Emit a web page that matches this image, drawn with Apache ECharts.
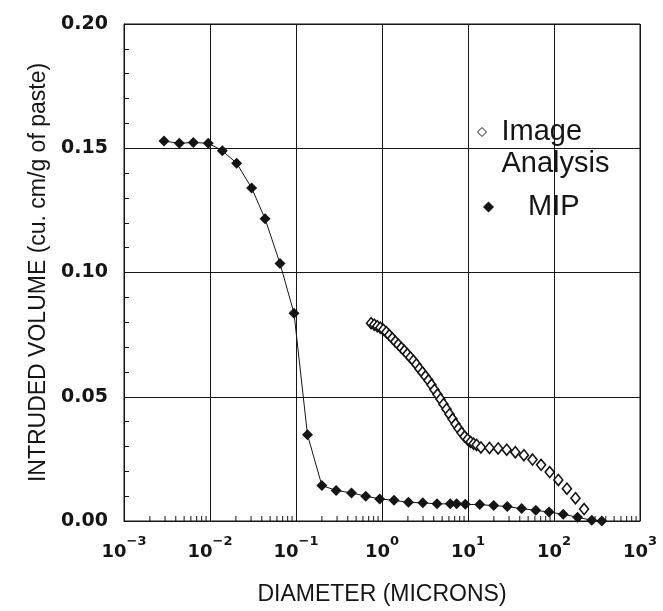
<!DOCTYPE html>
<html><head><meta charset="utf-8">
<script src="https://cdn.jsdelivr.net/npm/echarts@6/dist/echarts.min.js"></script>
<style>html,body{margin:0;padding:0;background:#fff}#c{width:663px;height:611px}</style>
</head><body><div id="c"></div>
<script>
// MIP (mercury intrusion porosimetry) — diameter in microns, intruded volume
const mipDiameter = [0.00292, 0.00440, 0.00640, 0.00955, 0.0139, 0.0204, 0.0305, 0.0437, 0.0652, 0.0948,
  0.136, 0.200, 0.293, 0.442, 0.647, 0.940, 1.38, 2.03, 2.98, 4.36, 6.22, 7.38, 9.29,
  13.7, 19.9, 28.6, 42.0, 61.4, 87.5, 128, 188, 275, 360];
const mipVolume = [0.1529, 0.1520, 0.1523, 0.1520, 0.1490, 0.1440, 0.1340, 0.1216, 0.1036, 0.0836,
  0.0347, 0.0143, 0.0123, 0.0113, 0.0100, 0.0089, 0.0083, 0.0075, 0.0073, 0.0069, 0.0069, 0.0069, 0.0067,
  0.0066, 0.0062, 0.0058, 0.0050, 0.0043, 0.0036, 0.0027, 0.0015, 0.0003, 0.0000];

// Image analysis — diameter in microns, intruded volume
const iaDiameter = [0.746, 0.813, 0.881, 0.955, 1.035, 1.122, 1.216, 1.318, 1.429, 1.549, 1.679, 1.820,
  1.972, 2.138, 2.317, 2.512, 2.723, 2.951, 3.199, 3.467, 3.758, 4.074, 4.416, 4.786, 5.188, 5.623,
  6.095, 6.607, 7.161, 7.762, 8.414, 9.120, 9.886, 10.72, 11.61, 12.59,
  14.13, 17.78, 22.39, 28.18, 35.48, 44.67, 56.23, 70.79, 89.13, 112.2, 141.3, 177.8, 223.9];
const iaVolume = [0.0796, 0.0790, 0.0784, 0.0778, 0.0770, 0.0760, 0.0748, 0.0735, 0.0722, 0.0710, 0.0697, 0.0685,
  0.0672, 0.0658, 0.0645, 0.0630, 0.0613, 0.0598, 0.0582, 0.0566, 0.0548, 0.0528, 0.0509, 0.0490, 0.0470, 0.0450,
  0.0430, 0.0410, 0.0390, 0.0372, 0.0355, 0.0340, 0.0328, 0.0318, 0.0311, 0.0306,
  0.0296, 0.0294, 0.0292, 0.0287, 0.0277, 0.0265, 0.0247, 0.0226, 0.0197, 0.0165, 0.0130, 0.0092, 0.0048];

// Axis ticks
const yTickLabels = ['0.00', '0.05', '0.10', '0.15', '0.20'];
const xTickExponents = ['−3', '−2', '−1', '0', '1', '2', '3'];
const xMinorTicks = [
  0.002, 0.003, 0.004, 0.005, 0.006, 0.007, 0.008, 0.009,
  0.02, 0.03, 0.04, 0.05, 0.06, 0.07, 0.08, 0.09,
  0.2, 0.3, 0.4, 0.5, 0.6, 0.7, 0.8, 0.9,
  2, 3, 4, 5, 6, 7, 8, 9,
  20, 30, 40, 50, 60, 70, 80, 90,
  200, 300, 400, 500, 600, 700, 800, 900];

const ink = '#151515';
const legendText = {fontFamily: 'Liberation Sans', fontSize: 29, lineHeight: 32, color: ink};
const chart = echarts.init(document.getElementById('c'), null, {renderer: 'canvas'});
chart.setOption({
  animation: false,
  backgroundColor: '#ffffff',
  grid: {left: 124, right: 23, top: 24, bottom: 87, show: true, borderColor: ink, borderWidth: 1},
  legend: [
    {
      data: [{name: 'Image Analysis', icon: 'diamond', itemStyle: {color: '#fff', borderColor: ink, borderWidth: 1}}],
      left: 477, top: 84, padding: 0, itemWidth: 9, itemHeight: 9, selectedMode: false,
      formatter: function () { return '\n{t|Image}\n{t|Analysis}'; },
      textStyle: Object.assign({}, legendText, {rich: {t: Object.assign({}, legendText, {padding: [0, 0, 0, 10]})}})
    },
    {
      data: [{name: 'MIP', icon: 'diamond', itemStyle: {color: ink}}],
      left: 483, top: 191, padding: 0, itemWidth: 11, itemHeight: 11, selectedMode: false,
      formatter: function (n) { return '{t|' + n + '}'; },
      textStyle: Object.assign({}, legendText, {rich: {t: Object.assign({}, legendText, {padding: [0, 0, 0, 29]})}})
    }
  ],
  xAxis: {
    type: 'log', logBase: 10, min: 0.001, max: 1000,
    name: 'DIAMETER (MICRONS)', nameLocation: 'middle', nameGap: 62,
    nameTextStyle: {fontFamily: 'Liberation Sans', fontSize: 23, color: ink},
    axisLine: {show: true, lineStyle: {color: ink, width: 1}},
    axisTick: {show: false},
    splitLine: {show: true, lineStyle: {color: ink, width: 1}},
    axisLabel: {
      margin: 14,
      formatter: function (v) {
        const e = Math.round(Math.log10(v));
        return '{b|10}{s|' + xTickExponents[e + 3] + '}';
      },
      rich: {
        b: {fontFamily: 'DejaVu Sans', fontWeight: 'bold', fontSize: 18, color: ink, lineHeight: 26, verticalAlign: 'bottom'},
        s: {fontFamily: 'DejaVu Sans', fontWeight: 'bold', fontSize: 13, color: ink, lineHeight: 10, verticalAlign: 'top'}
      }
    }
  },
  yAxis: {
    type: 'value', min: 0, max: 0.2, interval: 0.05,
    name: 'INTRUDED VOLUME (cu. cm/g of paste)', nameLocation: 'middle', nameGap: 72,
    nameTextStyle: {fontFamily: 'Liberation Sans', fontSize: 23, color: ink},
    axisLine: {show: true, lineStyle: {color: ink, width: 1}},
    axisTick: {show: true, inside: true, length: 6, lineStyle: {color: ink}},
    minorTick: {show: true, splitNumber: 5, length: 5, lineStyle: {color: ink, width: 1}},
    splitLine: {show: true, lineStyle: {color: ink, width: 1}},
    axisLabel: {
      margin: 16,
      fontFamily: 'DejaVu Sans', fontWeight: 'bold', fontSize: 19, color: ink,
      formatter: function (v) { return yTickLabels[Math.round(v / 0.05)]; }
    }
  },
  series: [
    {
      name: 'minor ticks', type: 'custom', silent: true, clip: false, z: 1,
      data: xMinorTicks.map(function (d) { return [d, 0]; }),
      renderItem: function (params, api) {
        const p = api.coord([api.value(0), 0]);
        return {type: 'line', shape: {x1: p[0], y1: p[1], x2: p[0], y2: p[1] - 5},
          style: {stroke: ink, lineWidth: 1}};
      }
    },
    {
      name: 'Image Analysis', type: 'scatter', z: 3,
      data: iaDiameter.map(function (d, i) { return [d, iaVolume[i]]; }),
      symbol: 'diamond', symbolSize: [9, 11],
      itemStyle: {color: '#fff', borderColor: ink, borderWidth: 1.6, opacity: 1},
      emphasis: {disabled: true}
    },
    {
      name: 'MIP', type: 'line', z: 4,
      data: mipDiameter.map(function (d, i) { return [d, mipVolume[i]]; }),
      symbol: 'diamond', symbolSize: 11, showAllSymbol: true,
      lineStyle: {color: ink, width: 1},
      itemStyle: {color: ink},
      emphasis: {disabled: true}
    }
  ]
});
</script>
</body></html>
